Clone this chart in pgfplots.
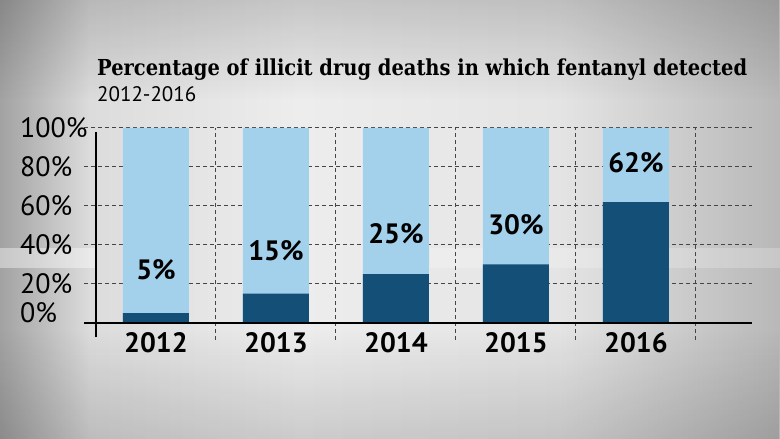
\documentclass[border=0pt]{standalone}
\usepackage{fontspec}
\setmainfont{PT Sans}
\newfontfamily\titlefont{DejaVu Serif}[FakeStretch=0.885]
\usepackage{pgfplots}
\pgfplotsset{compat=1.18}
\usetikzlibrary{fadings}
\definecolor{lightbar}{HTML}{A3D1EB}
\definecolor{darkbar}{HTML}{134F77}
\definecolor{gridc}{HTML}{454545}
\definecolor{bgA}{HTML}{A2A2A2}
\definecolor{bgB}{HTML}{DCDCDC}
\definecolor{bgC}{HTML}{EDEDED}
\definecolor{bgD}{HTML}{E4E4E4}
\definecolor{bgE}{HTML}{B8B8B8}
\begin{document}
\begin{tikzpicture}[x=1pt,y=1pt]
\useasboundingbox (0,0) rectangle (780,439);
% background
\fill[left color=bgA, right color=bgB] (0,0) rectangle (90,439);
\fill[left color=bgB, right color=bgC] (89.5,0) rectangle (300,439);
\fill[left color=bgC, right color=bgD] (299.5,0) rectangle (560,439);
\fill[left color=bgD, right color=bgE] (559.5,0) rectangle (780,439);
\fill[black, opacity=0.14, path fading=north] (0,0) rectangle (780,110);
\fill[black, opacity=0.16, path fading=south] (0,339) rectangle (780,439);
\fill[white, opacity=0.40] (0,171) rectangle (95,191);
\fill[white, opacity=0.22] (430,171) rectangle (780,191);
% titles
\node[anchor=base west, inner sep=0pt] at (97,363) {\titlefont\bfseries\fontsize{22}{26}\selectfont Percentage of illicit drug deaths in which fentanyl detected};
\node[anchor=base west, inner sep=0pt] at (97,337) {\fontsize{21}{24}\selectfont 2012-2016};
\begin{axis}[
  at={(84pt,99pt)}, anchor=south west,
  scale only axis, width=668pt, height=212pt,
  xmin=-0.6, xmax=4.967, ymin=-8.72, ymax=100,
  axis line style={draw=none},
  major tick length=0pt, minor tick length=0pt,
  xtick={0,1,2,3,4}, xticklabels={2012,2013,2014,2015,2016},
  minor xtick={0.5,1.5,2.5,3.5,4.5},
  xminorgrids,
  ytick={20,40,60,80,100},
  yticklabels={20\%,40\%,60\%,80\%,100\%},
  extra y ticks={0}, extra y tick labels={0\%},
  extra y tick style={yticklabel style={yshift=10pt}},
  ymajorgrids,
  major grid style={gridc, line width=1pt, dash pattern=on 4pt off 3pt},
  minor grid style={gridc, line width=1pt, dash pattern=on 4pt off 3pt},
  xticklabel style={font=\bfseries\fontsize{28}{28}\selectfont, anchor=base, yshift=-13pt, inner sep=0pt},
  yticklabel style={font=\fontsize{28}{28}\selectfont, anchor=west, xshift=-64pt, inner sep=0pt},
  clip=false,
]
\addplot[ybar, bar width=66pt, fill=lightbar, draw=none] coordinates {(0,100) (1,100) (2,100) (3,100) (4,100)};
\addplot[ybar, bar width=66pt, fill=darkbar, draw=none] coordinates {(0,5) (1,15) (2,25) (3,30) (4,62)};
\addplot[black, line width=2pt] coordinates {(-0.6,0) (4.967,0)};
\addplot[black, line width=2pt] coordinates {(-0.5,-7.2) (-0.5,97.9)};
\addplot[only marks, mark=*, mark size=0.01pt, mark options={draw=none, fill=none}, nodes near coords, point meta=explicit symbolic,
  nodes near coords style={font=\bfseries\fontsize{28}{28}\selectfont, anchor=center, text=black, inner sep=0pt}]
  coordinates {(0,27.2) [5\%] (1,36.9) [15\%] (2,45.6) [25\%] (3,50.3) [30\%] (4,82.0) [62\%]};
\end{axis}
\end{tikzpicture}
\end{document}
